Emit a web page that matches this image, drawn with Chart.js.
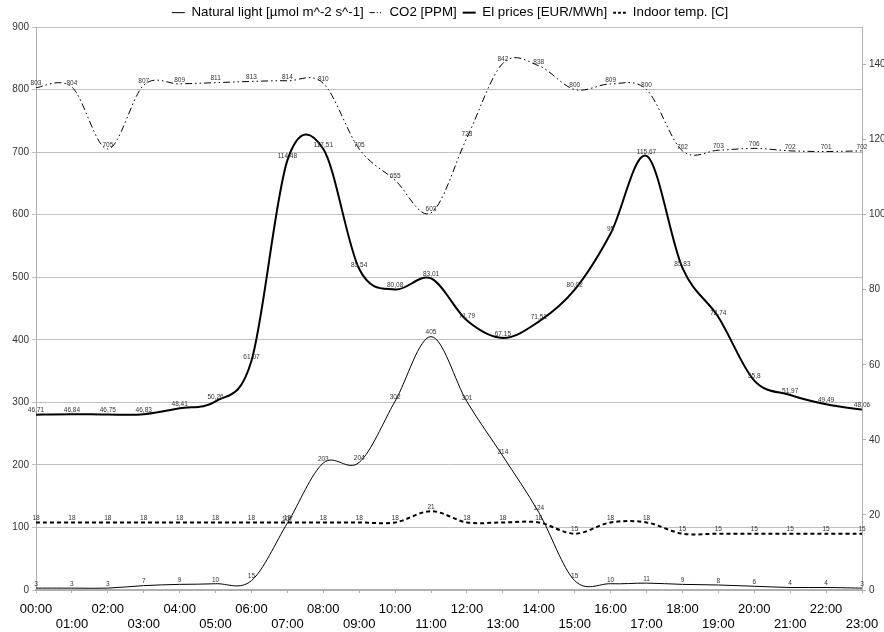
<!DOCTYPE html>
<html>
<head>
<meta charset="utf-8">
<script src="https://cdn.jsdelivr.net/npm/chart.js@4/dist/chart.umd.min.js"></script>
<style>
html,body{margin:0;padding:0;background:#fff;}
#wrap{width:884px;height:632px;position:relative;}
</style>
</head>
<body>
<div id="wrap"><canvas id="c"></canvas></div>
<script>
const hours = ['00:00','01:00','02:00','03:00','04:00','05:00','06:00','07:00','08:00','09:00','10:00','11:00','12:00','13:00','14:00','15:00','16:00','17:00','18:00','19:00','20:00','21:00','22:00','23:00'];
const naturalLight = [3,3,3,7,9,10,15,107,203,204,302,405,301,214,124,15,10,11,9,8,6,4,4,3];
const co2 = [803,804,705,807,809,811,813,814,810,705,655,603,723,842,838,800,809,800,702,703,706,702,701,702];
const elPrices = [46.71,46.84,46.75,46.83,48.41,50.26,61.07,114.48,117.51,85.54,80.08,83.01,71.79,67.15,71.51,80.02,95,115.67,85.83,72.74,55.8,51.97,49.49,48.06];
const indoorTemp = [18,18,18,18,18,18,18,18,18,18,18,21,18,18,18,15,18,18,15,15,15,15,15,15];
const leftTicks = {min:0, max:900, step:100};
const rightTicks = {min:0, max:150, step:20};

const FONT = '"Liberation Sans", Arial, sans-serif';

const labelPlugin = {
  id: 'pointLabels',
  afterDatasetsDraw(chart) {
    const ctx = chart.ctx;
    ctx.save();
    ctx.font = '6.5px ' + FONT;
    ctx.fillStyle = '#333';
    ctx.textAlign = 'center';
    ctx.textBaseline = 'middle';
    chart.data.datasets.forEach((ds, di) => {
      const meta = chart.getDatasetMeta(di);
      meta.data.forEach((pt, i) => {
        const v = ds.data[i];
        ctx.fillText(String(v).replace('.', ','), pt.x, pt.y - 4);
      });
    });
    ctx.restore();
  }
};

// Excel-like smoothing (Catmull-Rom style control points on the library's point positions)
const smoothPlugin = {
  id: 'excelSmooth',
  beforeDatasetDraw(chart, args) {
    const meta = args.meta;
    if (!meta.dataset) return;
    meta.dataset.updateControlPoints(chart.chartArea, 'x');
    const pts = meta.data;
    for (let i = 0; i < pts.length; i++) {
      const p = pts[i];
      const prev = pts[i - 1] || p;
      const next = pts[i + 1] || p;
      const dx = (next.x - prev.x) / 6;
      const dy = (next.y - prev.y) / 6;
      p.cp1x = p.x - dx; p.cp1y = p.y - dy;
      p.cp2x = p.x + dx; p.cp2y = p.y + dy;
    }
  }
};

const legendFit = {
  id: 'legendFit',
  beforeInit(chart) {
    const lg = chart.legend;
    const origFit = lg.fit;
    lg.fit = function() { origFit.call(this); this.height = 27; };
    const origDraw = lg.draw;
    lg.draw = function() {
      const ctx = this.ctx;
      ctx.save();
      ctx.translate(8, 0);
      origDraw.call(this);
      ctx.restore();
    };
  }
};

new Chart(document.getElementById('c'), {
  type: 'line',
  data: {
    labels: hours,
    datasets: [
      {label: 'Natural light [µmol m^-2 s^-1]', data: naturalLight, yAxisID: 'y', borderColor: '#000', backgroundColor: 'transparent', borderWidth: 1, pointRadius: 0, tension: 0.4},
      {label: 'CO2 [PPM]', data: co2, yAxisID: 'y', borderColor: '#000', backgroundColor: 'transparent', borderWidth: 1, borderDash: [7,3,1.5,3,1.5,3], pointRadius: 0, tension: 0.4},
      {label: 'El prices [EUR/MWh]', data: elPrices, yAxisID: 'y1', borderColor: '#000', backgroundColor: 'transparent', borderWidth: 2, pointRadius: 0, tension: 0.4},
      {label: 'Indoor temp. [C]', data: indoorTemp, yAxisID: 'y1', borderColor: '#000', backgroundColor: 'transparent', borderWidth: 2, borderDash: [4,3], pointRadius: 0, tension: 0.4}
    ]
  },
  options: {
    responsive: true,
    maintainAspectRatio: false,
    animation: false,
    layout: {padding: 0},
    plugins: {
      legend: {
        display: true,
        position: 'top',
        labels: {
          usePointStyle: true,
          pointStyle: 'line',
          pointStyleWidth: 13,
          boxHeight: 13,
          padding: 6,
          color: '#000',
          font: {family: FONT, size: 13.3},
          generateLabels(chart) {
            return chart.data.datasets.map((ds, i) => ({
              text: ds.label,
              fillStyle: 'transparent',
              strokeStyle: '#000',
              fontColor: '#000',
              lineWidth: ds.borderWidth,
              lineDash: ds.borderDash ? ds.borderDash.map(v => v * 0.7) : [],
              pointStyle: 'line',
              hidden: false,
              datasetIndex: i
            }));
          }
        }
      },
      tooltip: {enabled: false}
    },
    scales: {
      x: {
        type: 'category',
        offset: false,
        grid: {display: true, drawOnChartArea: false, drawTicks: true, tickLength: 3, color: '#b0b0b0'},
        border: {display: true, color: '#b0b0b0', width: 2},
        ticks: {
          autoSkip: false, maxRotation: 0, minRotation: 0, padding: 9,
          color: '#000',
          font: {family: FONT, size: 13, lineHeight: 1.15},
          callback: function(val, idx) { const l = hours[idx]; return idx % 2 === 0 ? l : ['', l]; }
        },
        afterFit(s) { s.height = 42; s.paddingLeft = 0; s.paddingRight = 0; }
      },
      y: {
        type: 'linear', position: 'left',
        min: leftTicks.min, max: leftTicks.max,
        grid: {display: true, drawOnChartArea: true, drawTicks: true, tickLength: 4, color: '#c0c0c0'},
        border: {display: true, color: '#b0b0b0', width: 1},
        ticks: {stepSize: leftTicks.step, color: '#333', padding: 3, font: {family: FONT, size: 10}},
        afterFit(s) { s.width = 36; }
      },
      y1: {
        type: 'linear', position: 'right',
        min: rightTicks.min, max: rightTicks.max,
        grid: {display: true, drawOnChartArea: false, drawTicks: true, tickLength: 4, color: '#b0b0b0'},
        border: {display: true, color: '#b0b0b0', width: 1},
        ticks: {stepSize: rightTicks.step, includeBounds: false, color: '#333', padding: 3, font: {family: FONT, size: 10}},
        afterFit(s) { s.width = 22; }
      }
    }
  },
  plugins: [labelPlugin, smoothPlugin, legendFit]
});
</script>
</body>
</html>
